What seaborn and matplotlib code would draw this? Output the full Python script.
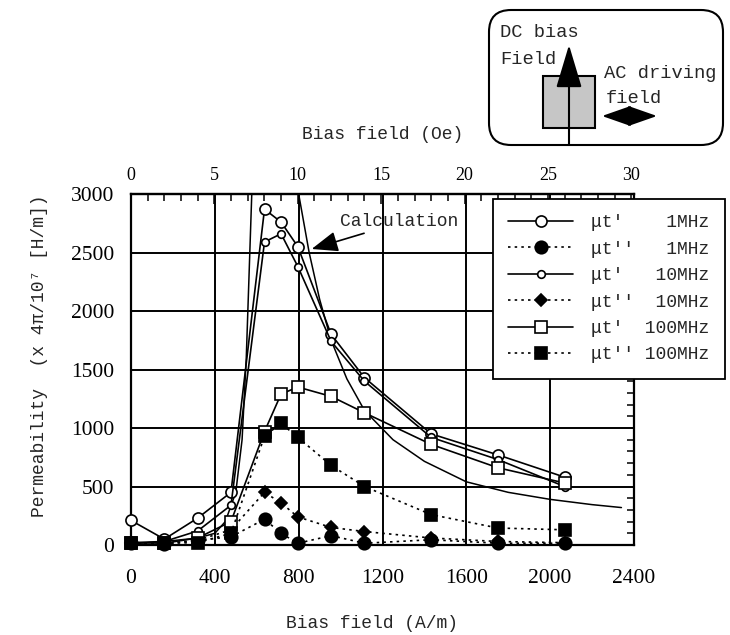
import numpy as np
import pandas as pd
import seaborn as sns
import matplotlib.pyplot as plt
from matplotlib.ticker import MultipleLocator
from matplotlib.patches import FancyBboxPatch, Rectangle

# measured points, bias field in A/m (0..26 Oe)
field_am = [0, 159, 318, 477, 637, 716, 796, 955, 1114, 1432, 1751, 2069]

mu_re_1mhz = [210, 50, 230, 450, 2870, 2760, 2550, 1800, 1430, 950, 770, 580]
mu_im_1mhz = [15, 10, 40, 70, 220, 100, 15, 80, 15, 45, 15, 15]
mu_re_10mhz = [20, 30, 120, 340, 2590, 2660, 2380, 1740, 1400, 920, 730, 500]
mu_im_10mhz = [15, 10, 40, 130, 450, 360, 240, 150, 115, 60, 30, 20]
mu_re_100mhz = [20, 15, 60, 200, 970, 1290, 1350, 1270, 1130, 860, 660, 530]
mu_im_100mhz = [15, 15, 20, 100, 930, 1040, 920, 680, 500, 260, 145, 130]

# calculated curve (goes off the top of the frame)
calc_am = [0, 160, 320, 400, 450, 500, 530, 550, 565, 580, 620, 680, 740, 790,
           850, 900, 955, 1030, 1114, 1250, 1400, 1600, 1800, 2000, 2200, 2340]
calc_mu = [10, 30, 60, 100, 200, 450, 900, 1600, 2400, 3200, 4500, 5200, 4500, 3100,
           2500, 2100, 1750, 1420, 1150, 900, 715, 540, 450, 390, 345, 320]

series_labels = ["\u03bct'    1MHz", "\u03bct''   1MHz", "\u03bct'   10MHz",
                 "\u03bct''  10MHz", "\u03bct'  100MHz", "\u03bct'' 100MHz"]

OE = 79.577  # A/m per Oe

sns.set_theme(style="white")
plt.rcParams['font.family'] = ['Liberation Serif', 'DejaVu Serif']
mono = ['Liberation Mono', 'DejaVu Sans Mono']

fig = plt.figure(figsize=(7.3, 6.35), dpi=100)
ax = fig.add_axes([131 / 730, 1 - 545 / 635, 503 / 730, 351 / 635])

styles = [
    dict(marker='o', markersize=8, markerfacecolor='white', linestyle='-'),
    dict(marker='o', markersize=9, markerfacecolor='black', linestyle=(0, (1.5, 2.5))),
    dict(marker='o', markersize=5.5, markerfacecolor='white', linestyle='-'),
    dict(marker='D', markersize=6.5, markerfacecolor='black', linestyle=(0, (1.5, 2.5))),
    dict(marker='s', markersize=8, markerfacecolor='white', linestyle='-'),
    dict(marker='s', markersize=8.5, markerfacecolor='black', linestyle=(0, (1.5, 2.5))),
]
all_series = [mu_re_1mhz, mu_im_1mhz, mu_re_10mhz, mu_im_10mhz, mu_re_100mhz, mu_im_100mhz]

handles = []
for vals, st in zip(all_series, styles):
    sns.lineplot(x=field_am, y=vals, ax=ax, color='black', lw=1.2,
                 markeredgecolor='black', markeredgewidth=1.2, clip_on=False, zorder=3, **st)
    handles.append(ax.get_lines()[-1])

sns.lineplot(x=calc_am, y=calc_mu, ax=ax, color='black', lw=1.1)

ax.annotate('Calculation', xy=(862, 2530), xytext=(995, 2765),
            fontsize=13, family=mono, va='center', ha='left',
            arrowprops=dict(arrowstyle='-|>,head_length=0.9,head_width=0.35', color='black',
                            lw=1.2, mutation_scale=18, shrinkA=0, shrinkB=0,
                            relpos=(0.3, 0.0)))

ax.set_xlim(0, 2400)
ax.set_ylim(0, 3000)
ax.xaxis.set_major_locator(MultipleLocator(400))
ax.xaxis.set_minor_locator(MultipleLocator(80))
ax.yaxis.set_major_locator(MultipleLocator(500))
ax.yaxis.set_minor_locator(MultipleLocator(100))
ax.grid(True, which='major', color='black', lw=1.4)
ax.tick_params(which='both', direction='in', right=True, top=False, colors='black')
ax.tick_params(which='major', length=0, labelsize=15.5)
ax.tick_params(axis='x', which='major', pad=17)
ax.tick_params(axis='y', which='major', pad=12)
ax.tick_params(which='minor', length=5, width=1.1)
for sp in ax.spines.values():
    sp.set_color('black')
    sp.set_linewidth(1.6)

ax.set_xlabel('Bias field (A/m)', fontsize=13, family=mono)
ax.xaxis.set_label_coords(0.48, -0.2)
ax.set_ylabel('Permeability  (x 4\u03c0/10\u2077 [H/m])', fontsize=13, family=mono)
ax.yaxis.set_label_coords(-0.165, 0.54)

secax = ax.secondary_xaxis('top', functions=(lambda x: x / OE, lambda x: x * OE))
secax.xaxis.set_major_locator(MultipleLocator(5))
secax.xaxis.set_minor_locator(MultipleLocator(1))
secax.tick_params(which='both', direction='in', colors='black')
secax.tick_params(which='major', length=7, width=1.1, labelsize=13, pad=7)
secax.tick_params(which='minor', length=5, width=1.1)
secax.spines['top'].set_linewidth(1.6)
secax.set_xlabel('Bias field (Oe)', fontsize=13, family=mono, labelpad=20)

leg = fig.legend(handles, series_labels, loc='upper left',
                 bbox_to_anchor=(493 / 730, 1 - 199 / 635), frameon=True, fancybox=False,
                 edgecolor='black', framealpha=1, prop=dict(family=mono, size=13),
                 handlelength=3.6, handletextpad=1.0, labelspacing=0.52, borderpad=0.85,
                 borderaxespad=0)
leg.get_frame().set_linewidth(1.3)

# sample / field sketch in the top-right corner (pixel-like coordinates)
ins = fig.add_axes([487 / 730, 1 - 148 / 635, 240 / 730, 140 / 635])
ins.set_xlim(0, 240)
ins.set_ylim(140, 0)
ins.axis('off')
ins.add_patch(FancyBboxPatch((2, 2), 234, 135, boxstyle='round,pad=0,rounding_size=22',
                             fc='white', ec='black', lw=1.5, clip_on=False))
ins.add_patch(Rectangle((56, 68), 52, 52, fc='#c6c6c6', ec='black', lw=1.5))
ins.text(13, 25, 'DC bias', family=mono, fontsize=13.5, va='center')
ins.text(13, 52, 'Field', family=mono, fontsize=13.5, va='center')
ins.text(117, 66, 'AC driving', family=mono, fontsize=13.5, va='center')
ins.text(119, 91, 'field', family=mono, fontsize=13.5, va='center')
ins.annotate('', xy=(82, 37), xytext=(82, 137),
             arrowprops=dict(arrowstyle='-|>,head_length=1.5,head_width=0.45', color='black',
                             lw=1.5, mutation_scale=18, shrinkA=0, shrinkB=0))
ins.annotate('', xy=(170, 108), xytext=(115, 108),
             arrowprops=dict(arrowstyle='<|-|>,head_length=1.0,head_width=0.35', color='black',
                             lw=1.5, mutation_scale=18, shrinkA=0, shrinkB=0))

fig.savefig('out.png', dpi=100, facecolor='white')
